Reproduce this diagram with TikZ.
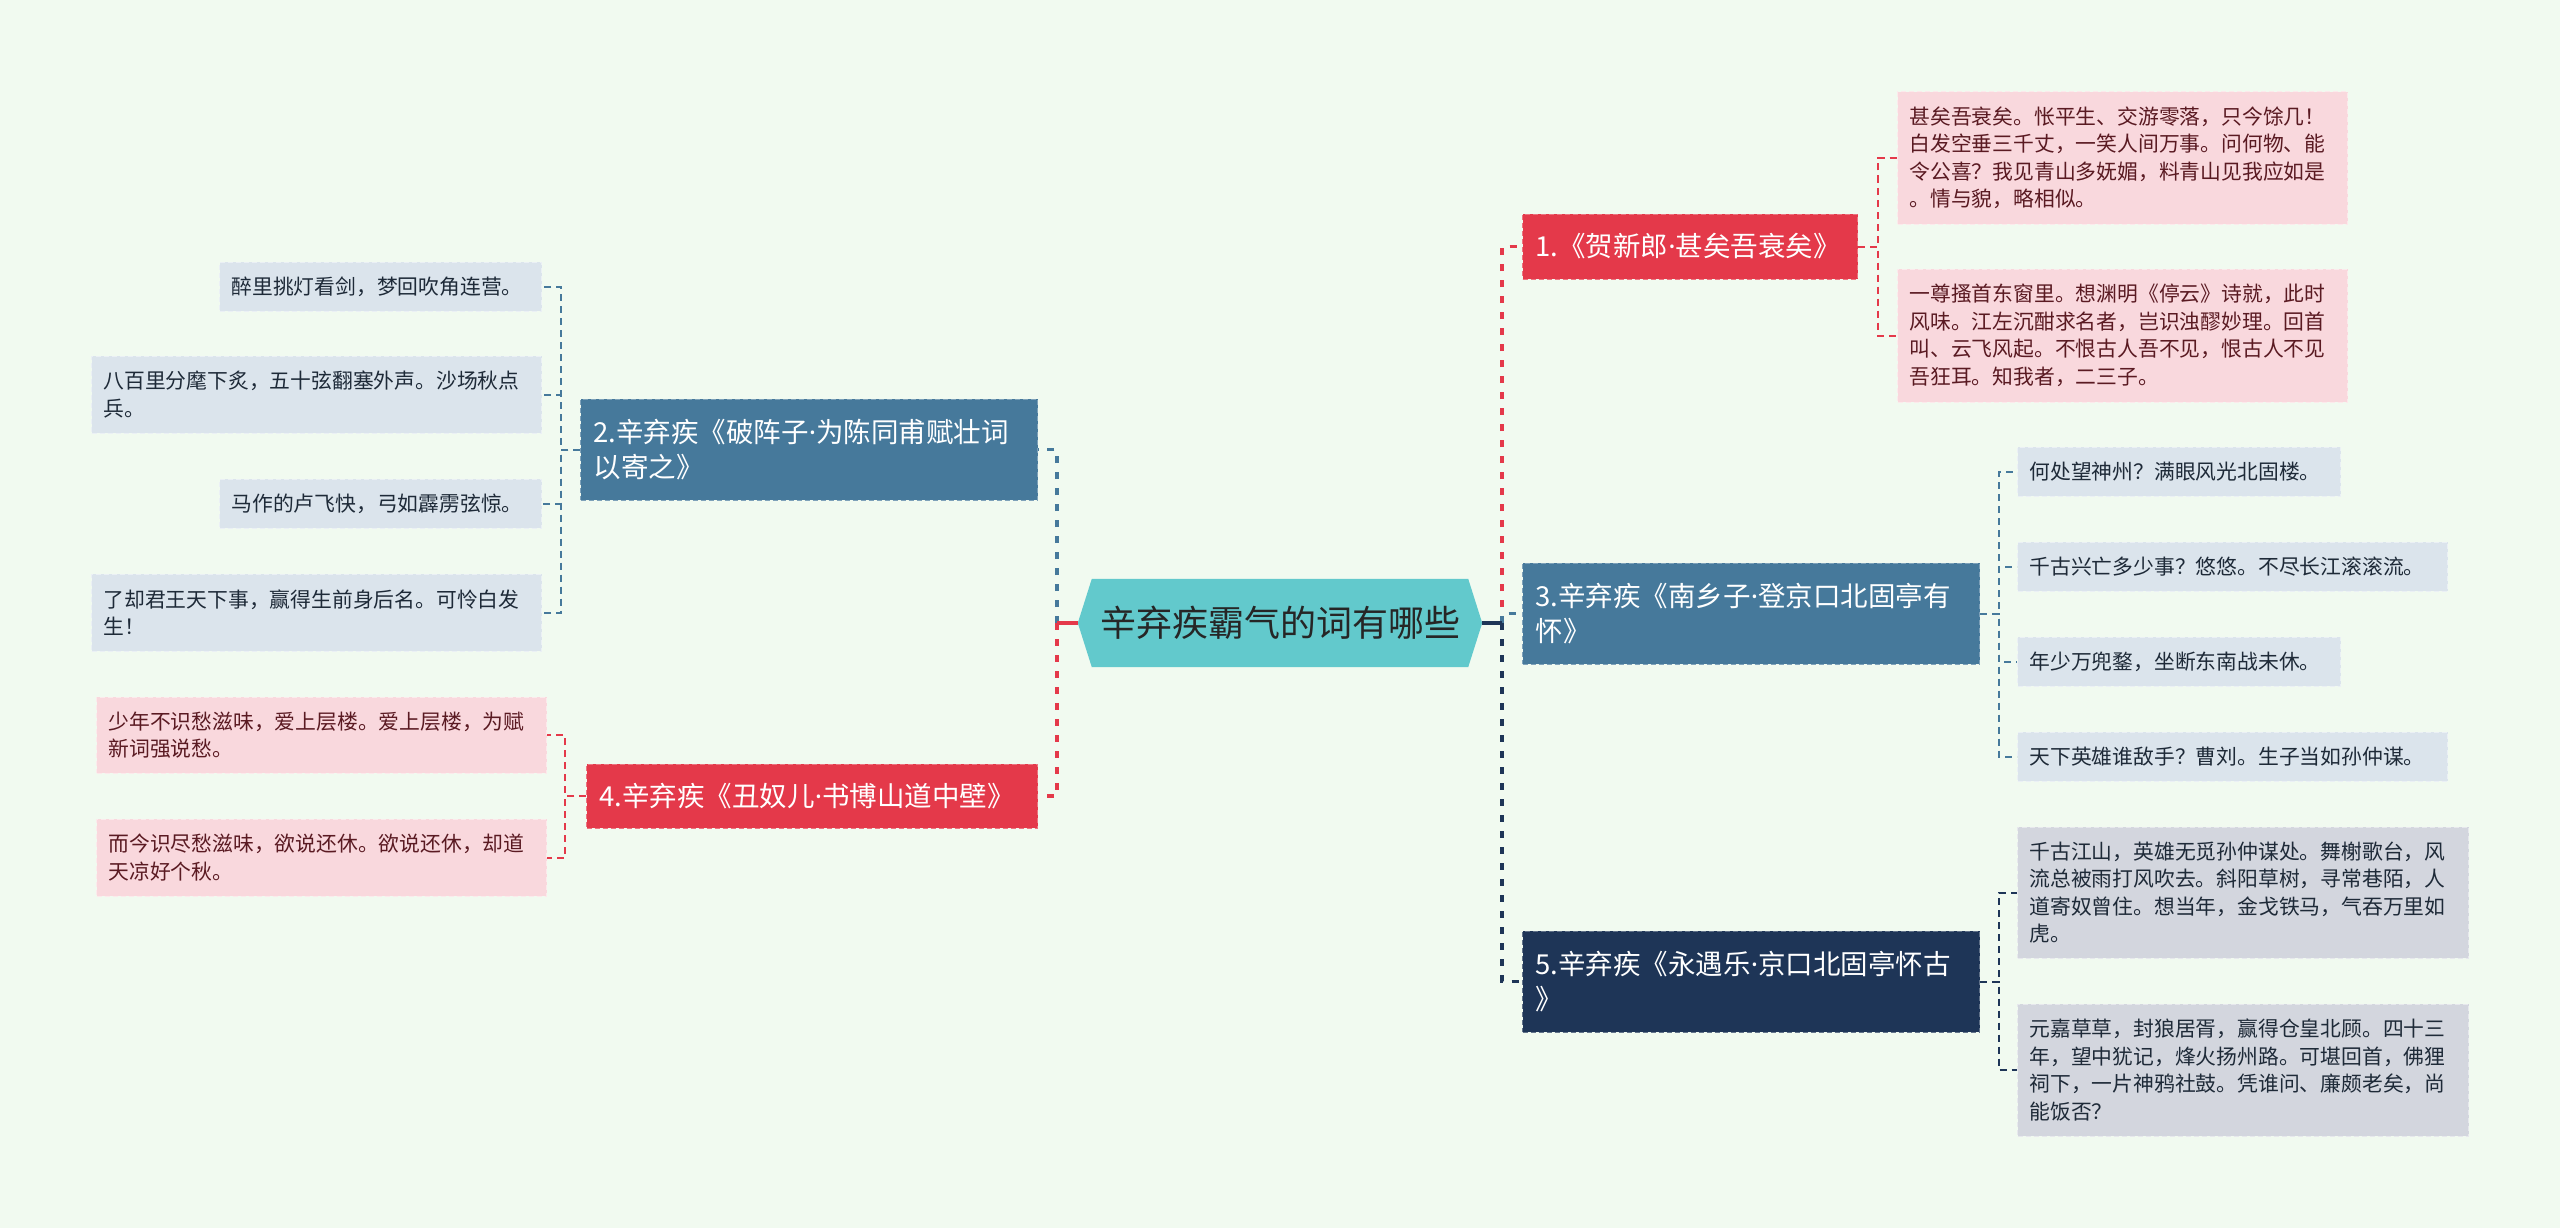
\documentclass[tikz,border=0pt]{standalone}
\usepackage{fontspec}
\newfontfamily\cjk{Noto Sans CJK SC}
\newfontfamily\latinsans{Noto Sans}
\usetikzlibrary{backgrounds}
\definecolor{cbg}{HTML}{F1FAF0}
\definecolor{cred}{HTML}{E4394A}
\definecolor{cblue}{HTML}{46799B}
\definecolor{cnavy}{HTML}{1E3557}
\definecolor{cteal}{HTML}{62C9CC}
\definecolor{cpink}{HTML}{F9D8DD}
\definecolor{cice}{HTML}{DBE4EC}
\definecolor{cgrey}{HTML}{D3D6DE}
\definecolor{cmaroon}{HTML}{5A1A22}
\definecolor{cink}{HTML}{1E2A38}
\newcommand\leaffont{\cjk\fontsize{20.8}{27.5}\selectfont}
\newcommand\branchfont{\cjk\fontsize{27.5}{35}\selectfont}
\newcommand\mdot{{\latinsans ·}}
\tikzset{
  card/.style={rectangle,inner ysep=0pt,align=left,dashed,line width=1pt,dash pattern=on 5pt off 3pt},
  leaf/.style={card,inner xsep=12pt,text width=#1,font=\leaffont},
  pinkleaf/.style={leaf=#1,fill=cpink,draw=white!45!cpink,text=cmaroon},
  iceleaf/.style={leaf=#1,fill=cice,draw=white!45!cice,text=cink},
  greyleaf/.style={leaf=#1,fill=cgrey,draw=white!45!cgrey,text=cink},
  branch/.style={card,inner xsep=13pt,text width=#1,font=\branchfont,text=white},
  redbranch/.style={branch=#1,fill=cred,draw=white!30!cred},
  bluebranch/.style={branch=#1,fill=cblue,draw=white!30!cblue},
  navybranch/.style={branch=#1,fill=cnavy,draw=white!30!cnavy},
  rootbox/.style={rectangle,minimum width=376pt,minimum height=88pt,inner sep=0pt,
    font=\cjk\fontsize{36}{40}\selectfont,text=black!85},
  trunk/.style={line width=3.5pt,dash pattern=on 7pt off 9pt},
  twig/.style={line width=2pt,dash pattern=on 7pt off 5pt}
}
\begin{document}
\begin{tikzpicture}[x=1pt,y=-1pt]
  \begin{scope}[on background layer]
    \fill[cbg] (0,0) rectangle (2560,1228);
  \end{scope}
  \useasboundingbox (0,0) rectangle (2560,1228);
  % centre
  \node[rootbox] (root) at (1280,623) {辛弃疾霸气的词有哪些};
  \begin{scope}[on background layer]
    \fill[cteal] (root.north west) -- (root.north east) -- ([xshift=14pt]root.east)
      -- (root.south east) -- (root.south west) -- ([xshift=-14pt]root.west) -- cycle;
  \end{scope}
  % right branches
  \node[redbranch=309pt,minimum height=65pt,anchor=west] (b1) at (1522,246.5) {1.《贺新郎\mdot 甚矣吾衰矣》};
  \node[bluebranch=431pt,minimum height=101pt,anchor=west] (b3) at (1522,613.5) {3.辛弃疾《南乡子\mdot 登京口北固亭有\\怀》};
  \node[navybranch=431pt,minimum height=101pt,anchor=west] (b5) at (1522,981.5) {5.辛弃疾《永遇乐\mdot 京口北固亭怀古\\》};
  % left branches
  \node[bluebranch=431pt,minimum height=101pt,anchor=east] (b2) at (1038,449.5) {2.辛弃疾《破阵子\mdot 为陈同甫赋壮词\\以寄之》};
  \node[redbranch=425pt,minimum height=64pt,anchor=east] (b4) at (1038,796) {4.辛弃疾《丑奴儿\mdot 书博山道中壁》};
  % leaves of 1
  \node[pinkleaf=426pt,minimum height=132pt,anchor=west] (l1a) at (1897,158) {甚矣吾衰矣。怅平生、交游零落，只今馀几！\\白发空垂三千丈，一笑人间万事。问何物、能\\令公喜？我见青山多妩媚，料青山见我应如是\\。情与貌，略相似。};
  \node[pinkleaf=426pt,minimum height=133pt,anchor=west] (l1b) at (1897,335.5) {一尊搔首东窗里。想渊明《停云》诗就，此时\\风味。江左沉酣求名者，岂识浊醪妙理。回首\\叫、云飞风起。不恨古人吾不见，恨古人不见\\吾狂耳。知我者，二三子。};
  % leaves of 3
  \node[iceleaf=299pt,minimum height=49pt,anchor=west] (l3a) at (2017,471.5) {何处望神州？满眼风光北固楼。};
  \node[iceleaf=406pt,minimum height=49pt,anchor=west] (l3b) at (2017,566.5) {千古兴亡多少事？悠悠。不尽长江滚滚流。};
  \node[iceleaf=299pt,minimum height=49pt,anchor=west] (l3c) at (2017,661.5) {年少万兜鍪，坐断东南战未休。};
  \node[iceleaf=406pt,minimum height=49pt,anchor=west] (l3d) at (2017,756.5) {天下英雄谁敌手？曹刘。生子当如孙仲谋。};
  % leaves of 5
  \node[greyleaf=427pt,minimum height=131pt,anchor=west] (l5a) at (2017,892.5) {千古江山，英雄无觅孙仲谋处。舞榭歌台，风\\流总被雨打风吹去。斜阳草树，寻常巷陌，人\\道寄奴曾住。想当年，金戈铁马，气吞万里如\\虎。};
  \node[greyleaf=427pt,minimum height=132pt,anchor=west] (l5b) at (2017,1070) {元嘉草草，封狼居胥，赢得仓皇北顾。四十三\\年，望中犹记，烽火扬州路。可堪回首，佛狸\\祠下，一片神鸦社鼓。凭谁问、廉颇老矣，尚\\能饭否？};
  % leaves of 2
  \node[iceleaf=298pt,minimum height=49pt,anchor=east] (l2a) at (542,286.5) {醉里挑灯看剑，梦回吹角连营。};
  \node[iceleaf=426pt,minimum height=77pt,anchor=east] (l2b) at (542,394.5) {八百里分麾下炙，五十弦翻塞外声。沙场秋点\\兵。};
  \node[iceleaf=298pt,minimum height=49pt,anchor=east] (l2c) at (542,503.5) {马作的卢飞快，弓如霹雳弦惊。};
  \node[iceleaf=426pt,minimum height=77pt,anchor=east] (l2d) at (542,612.5) {了却君王天下事，赢得生前身后名。可怜白发\\生！};
  % leaves of 4
  \node[pinkleaf=426pt,minimum height=76pt,anchor=east] (l4a) at (547,735) {少年不识愁滋味，爱上层楼。爱上层楼，为赋\\新词强说愁。};
  \node[pinkleaf=426pt,minimum height=77pt,anchor=east] (l4b) at (547,857.5) {而今识尽愁滋味，欲说还休。欲说还休，却道\\天凉好个秋。};
  % trunk lines
  \draw[trunk,cred] ([xshift=34pt]root.east) |- (b1.west);
  \draw[trunk,cblue] ([xshift=34pt]root.east) |- (b3.west);
  \draw[trunk,cnavy] ([xshift=34pt]root.east) |- (b5.west);
  \draw[trunk,cblue] ([xshift=-35pt]root.west) |- (b2.east);
  \draw[trunk,cred] ([xshift=-35pt]root.west) |- (b4.east);
  \draw[trunk,solid,cnavy] ([xshift=14pt]root.east) -- ([xshift=34pt]root.east);
  \draw[trunk,solid,cred] ([xshift=-14pt]root.west) -- ([xshift=-35pt]root.west);
  % twigs
  \foreach \l in {l1a,l1b} \draw[twig,cred] (b1.east) -- ++(20,0) |- (\l.west);
  \foreach \l in {l3a,l3b,l3c,l3d} \draw[twig,cblue] (b3.east) -- ++(19,0) |- (\l.west);
  \foreach \l in {l5a,l5b} \draw[twig,cnavy] (b5.east) -- ++(19,0) |- (\l.west);
  \foreach \l in {l2a,l2b,l2c,l2d} \draw[twig,cblue] (b2.west) -- ++(-19,0) |- (\l.east);
  \foreach \l in {l4a,l4b} \draw[twig,cred] (b4.west) -- ++(-21,0) |- (\l.east);
\end{tikzpicture}
\end{document}
